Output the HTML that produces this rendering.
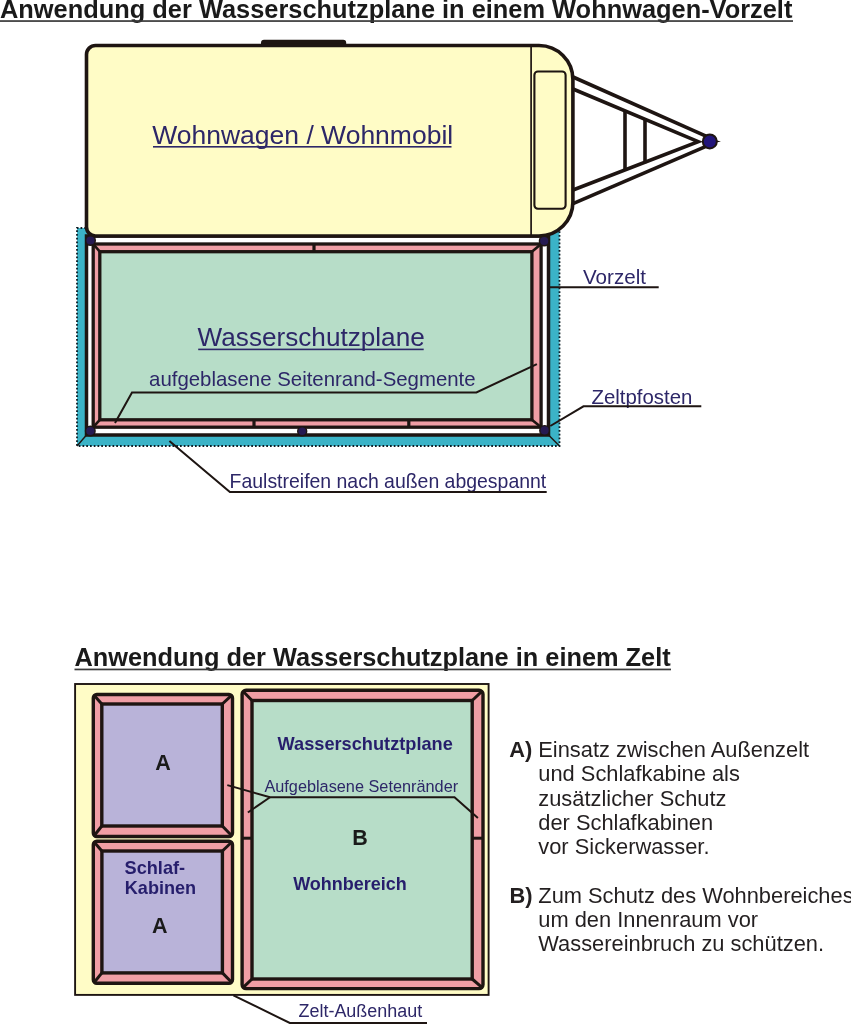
<!DOCTYPE html>
<html><head><meta charset="utf-8">
<style>
html,body{margin:0;padding:0;background:#fff;width:851px;height:1024px;overflow:hidden}
svg{display:block;will-change:transform}
text{font-family:"Liberation Sans",sans-serif}
</style></head>
<body>
<svg width="851" height="1024" viewBox="0 0 851 1024">
<defs></defs>
<!-- ===== TOP TITLE ===== -->
<text x="0" y="17.6" font-size="25.4" font-weight="bold" fill="#1a1a1a">Anwendung der Wasserschutzplane in einem Wohnwagen-Vorzelt</text>
<rect x="0" y="20.2" width="793" height="1.7" fill="#3a3a3a"/>

<!-- ===== VORZELT (cyan strip) ===== -->
<rect x="77" y="228" width="482.5" height="218" fill="#3bb3c7"/>
<path d="M86 228 H77 V446 H559.5 V228" fill="none" stroke="#0e1e26" stroke-width="1.8" stroke-dasharray="1.7 2.05"/>
<!-- outer white frame -->
<rect x="86.5" y="236" width="462" height="199" fill="#fff" stroke="#1e1512" stroke-width="3.5"/>
<line x1="86.5" y1="435" x2="77" y2="446" stroke="#1e1512" stroke-width="1.4"/>
<line x1="548.5" y1="435" x2="559.5" y2="446" stroke="#1e1512" stroke-width="1.4"/>
<!-- inflated segments -->
<rect x="93.2" y="244" width="447.9" height="183.2" fill="#f09ea5" stroke="#1e1512" stroke-width="3.3"/>
<rect x="99.8" y="251.7" width="432.1" height="168.1" fill="#b7ddc8" stroke="#1e1512" stroke-width="3.3"/>
<g stroke="#1e1512" stroke-width="2.6">
<line x1="93.2" y1="244" x2="99.8" y2="251.7"/>
<line x1="541.1" y1="244" x2="531.9" y2="251.7"/>
<line x1="93.2" y1="427.2" x2="99.8" y2="419.8"/>
<line x1="541.1" y1="427.2" x2="531.9" y2="419.8"/>
<line x1="314" y1="244" x2="314" y2="251.7" stroke-width="3.2"/>
<line x1="254" y1="419.8" x2="254" y2="427.2" stroke-width="3.2"/>
<line x1="408.8" y1="419.8" x2="408.8" y2="427.2" stroke-width="3.2"/>
</g>

<!-- ===== CARAVAN ===== -->
<rect x="261" y="39.7" width="85.2" height="8" rx="3" fill="#1e1512"/>
<path d="M95.5 45.5 H539 A34 34 0 0 1 572.9 79.5 V202 A34 34 0 0 1 539 236 H95.5 A9 9 0 0 1 86.5 227 V54.5 A9 9 0 0 1 95.5 45.5 Z" fill="#fffcc6" stroke="#1e1512" stroke-width="3.6"/>
<line x1="531.1" y1="46" x2="531.1" y2="235" stroke="#1e1512" stroke-width="1.7"/>
<rect x="534.4" y="71.5" width="31.2" height="137.3" rx="3.5" fill="none" stroke="#1e1512" stroke-width="2.1"/>
<!-- drawbar -->
<g stroke="#1e1512" stroke-width="3.6" stroke-linecap="butt" fill="none">
<line x1="573" y1="77" x2="706" y2="136.2"/>
<polyline points="573,89 698.2,141.6 573,190" stroke-linejoin="miter"/>
<line x1="573" y1="203.7" x2="706" y2="146.4"/>
<line x1="625" y1="110" x2="625" y2="171"/>
<line x1="645" y1="118.4" x2="645" y2="163.2"/>
</g>
<path d="M716 140.2 L721 141.4 L716 142.6 Z" fill="#1e1512"/>
<circle cx="709.8" cy="141.4" r="7" fill="#22157a" stroke="#1e1512" stroke-width="2"/>

<!-- posts -->
<g fill="#261a52" stroke="#1e1512" stroke-width="1.4">
<circle cx="90.5" cy="240.5" r="4.8"/>
<circle cx="544.2" cy="241" r="4.8"/>
<circle cx="90.3" cy="431" r="4.8"/>
<circle cx="544.6" cy="430.4" r="4.8"/>
<circle cx="302.2" cy="431.2" r="4.5"/>
</g>

<!-- labels top -->
<g fill="#2d2768">
<text x="152.2" y="143.7" font-size="26.5">Wohnwagen / Wohnmobil</text>
<text x="197.6" y="345.8" font-size="26.15">Wasserschutzplane</text>
<text x="149.1" y="386.3" font-size="20.4">aufgeblasene Seitenrand-Segmente</text>
<text x="583" y="283.5" font-size="20.6">Vorzelt</text>
<text x="591.5" y="403.9" font-size="20.4">Zeltpfosten</text>
<text x="229.6" y="488" font-size="19.45">Faulstreifen nach außen abgespannt</text>
</g>
<rect x="153" y="146" width="298.5" height="1.6" fill="#2d2768"/>
<rect x="198.2" y="348.6" width="225.5" height="1.6" fill="#2d2768"/>
<g stroke="#1e1512" stroke-width="2" fill="none">
<polyline points="115,423 132,392.4 476.4,392.4 536.9,364.1"/>
<polyline points="549,287.3 658.7,287.3"/>
<polyline points="550.3,426 583.5,406.3 701.3,406.3"/>
<polyline points="169.4,441 229.9,492 546.7,492"/>
</g>

<!-- ===== BOTTOM TITLE ===== -->
<text x="74.5" y="666.2" font-size="25.35" font-weight="bold" fill="#1a1a1a">Anwendung der Wasserschutzplane in einem Zelt</text>
<rect x="74.5" y="668.6" width="596.5" height="1.7" fill="#3a3a3a"/>

<!-- tent box -->
<rect x="75.1" y="684" width="413.5" height="310.9" fill="#fffcc6" stroke="#1e1512" stroke-width="1.9"/>

<!-- room A top -->
<rect x="93.3" y="694.5" width="139.2" height="142" rx="3.5" fill="#f09ea5" stroke="#1e1512" stroke-width="3.4"/>
<rect x="101.8" y="704" width="120.5" height="122" fill="#b9b3d9" stroke="#1e1512" stroke-width="3.4"/>
<!-- room A bottom -->
<rect x="93.3" y="841.3" width="139.2" height="141.9" rx="3.5" fill="#f09ea5" stroke="#1e1512" stroke-width="3.4"/>
<rect x="101.9" y="851" width="120.5" height="121.9" fill="#b9b3d9" stroke="#1e1512" stroke-width="3.4"/>
<!-- room B -->
<rect x="242.1" y="690.3" width="240.9" height="298.3" rx="4" fill="#f09ea5" stroke="#1e1512" stroke-width="3.4"/>
<rect x="252" y="700.5" width="220.2" height="278.5" fill="#b7ddc8" stroke="#1e1512" stroke-width="3.4"/>
<g stroke="#1e1512" stroke-width="3">
<line x1="94.5" y1="695.7" x2="101.8" y2="704"/>
<line x1="231.3" y1="695.7" x2="222.3" y2="704"/>
<line x1="94.5" y1="835.3" x2="101.8" y2="826"/>
<line x1="231.3" y1="835.3" x2="222.3" y2="826"/>

<line x1="94.5" y1="842.5" x2="101.9" y2="851"/>
<line x1="231.3" y1="842.5" x2="222.4" y2="851"/>
<line x1="94.5" y1="982" x2="101.9" y2="972.9"/>
<line x1="231.3" y1="982" x2="222.4" y2="972.9"/>

<line x1="243.5" y1="691.7" x2="252" y2="700.5"/>
<line x1="481.6" y1="691.7" x2="472.2" y2="700.5"/>
<line x1="243.5" y1="987.2" x2="252" y2="979"/>
<line x1="481.6" y1="987.2" x2="472.2" y2="979"/>

<line x1="242.1" y1="838.2" x2="252" y2="838.2"/>
<line x1="472.2" y1="838.2" x2="483" y2="838.2"/>
</g>

<!-- bottom labels -->
<g font-weight="bold" fill="#1a1a1a">
<text x="155.3" y="769.6" font-size="21.5">A</text>
<text x="152" y="932.6" font-size="21.5">A</text>
<text x="352.2" y="844.7" font-size="21.5">B</text>
</g>
<g font-weight="bold" fill="#261e6c">
<text x="277.6" y="749.5" font-size="18.2">Wasserschutztplane</text>
<text x="293.2" y="890.4" font-size="18">Wohnbereich</text>
<text x="124.5" y="873.8" font-size="18.2">Schlaf-</text>
<text x="124.8" y="893.9" font-size="18.1">Kabinen</text>
</g>
<g fill="#2d2768">
<text x="264.4" y="792.4" font-size="16.3">Aufgeblasene Setenränder</text>
<text x="298.5" y="1017.3" font-size="17.95">Zelt-Außenhaut</text>
</g>
<g stroke="#1e1512" stroke-width="2" fill="none">
<polyline points="227.3,785.1 270,797.2 454.5,797.2 477.9,817.9"/>
<polyline points="247.9,812.5 270,797.2"/>
<polyline points="233.4,995.3 289.8,1023 427,1023"/>
</g>

<!-- right text -->
<g fill="#231f20" font-size="21.85">
<text x="509.2" y="757.0" font-weight="bold">A)</text>
<text x="538.3" y="757.0">Einsatz zwischen Außenzelt</text>
<text x="538.3" y="781.3">und Schlafkabine als</text>
<text x="538.3" y="805.6">zusätzlicher Schutz</text>
<text x="538.3" y="830.0">der Schlafkabinen</text>
<text x="538.3" y="854.0">vor Sickerwasser.</text>
<text x="509.4" y="902.9" font-weight="bold">B)</text>
<text x="538.3" y="902.9">Zum Schutz des Wohnbereiches</text>
<text x="538.3" y="927.2">um den Innenraum vor</text>
<text x="538.3" y="951.4">Wassereinbruch zu schützen.</text>
</g>
</svg>
</body></html>
